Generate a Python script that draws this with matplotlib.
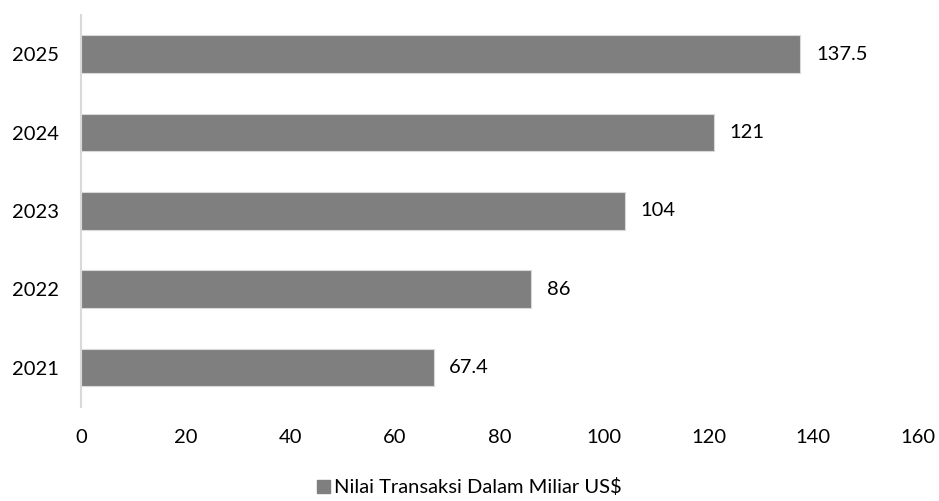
import matplotlib

matplotlib.use("Agg")
import matplotlib.pyplot as plt
from matplotlib.patches import Patch

plt.rcParams["font.family"] = ["Lato", "DejaVu Sans"]

years = ["2021", "2022", "2023", "2024", "2025"]
values = [67.4, 86, 104, 121, 137.5]
value_labels = ["67.4", "86", "104", "121", "137.5"]
series_name = "Nilai Transaksi Dalam Miliar US$"

bar_color = "#7f7f7f"

fig = plt.figure(figsize=(9.39, 5.01), dpi=100)
ax = fig.add_axes([0.0863, 0.188, 0.8913, 0.782])

ax.barh(years, values, height=0.48, color=bar_color, edgecolor="#d9d9d9", linewidth=0.8)

for i, (v, lab) in enumerate(zip(values, value_labels)):
    ax.text(v + 3.0, i, lab, va="center", ha="left", fontsize=14.5, color="#000000")

ax.set_xlim(0, 160)
ax.set_ylim(-0.5, 4.5)
ax.set_xticks(range(0, 161, 20))

for side in ("top", "right", "bottom"):
    ax.spines[side].set_visible(False)
ax.spines["left"].set_color("#d9d9d9")
ax.spines["left"].set_linewidth(1.5)

ax.tick_params(axis="both", length=0, labelsize=14.5, colors="#000000")
ax.tick_params(axis="x", pad=16)
ax.tick_params(axis="y", pad=16)

handle = Patch(facecolor=bar_color, edgecolor=bar_color)
fig.legend([handle], [series_name], loc="center", bbox_to_anchor=(0.5, 0.027),
           frameon=False, fontsize=14.5, handlelength=0.65, handleheight=0.65,
           handletextpad=0.2)

fig.savefig("out.png", dpi=100)
